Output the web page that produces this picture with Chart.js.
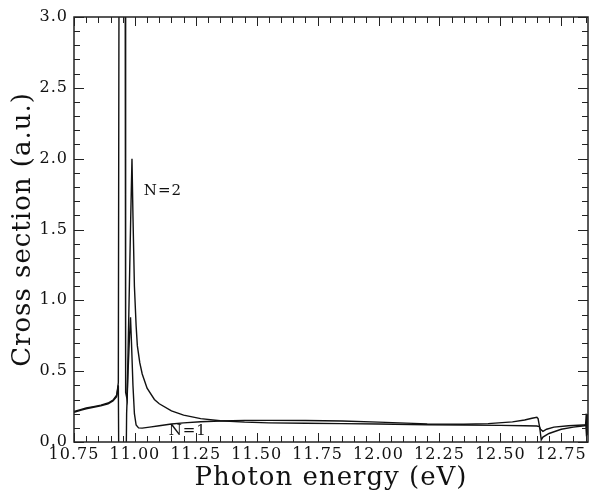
<!DOCTYPE html>
<html lang="en">
<head>
    <meta charset="UTF-8">
    <title>Cross section vs photon energy</title>
    <script src="https://cdn.jsdelivr.net/npm/chart.js"></script>
    <style>
        body {
            margin: 0;
            background: #fff;
        }
        canvas {
            display: block;
        }
    </style>
</head>
<body>
    <canvas id="crossChart" width="600" height="491"></canvas>

    <script>
        // axis ranges and tick labels
        const xRange = [10.75, 12.86];
        const yRange = [0, 3.0];
        const xTickVals = [10.75, 11.00, 11.25, 11.50, 11.75, 12.00, 12.25, 12.50, 12.75];
        const yTickVals = [0, 0.5, 1.0, 1.5, 2.0, 2.5, 3.0];

        // N=2 curve (big peak near 11.0)
        const n2X = [10.75, 10.78, 10.80, 10.83, 10.86, 10.89, 10.91, 10.925, 10.932, 10.935, 10.960, 10.962, 10.968,
                     10.975, 10.983, 10.988, 10.992, 10.998, 11.005, 11.01, 11.02, 11.03, 11.05, 11.08, 11.10, 11.15,
                     11.20, 11.27, 11.35, 11.45, 11.55, 11.70, 11.85, 12.00, 12.20, 12.35, 12.50, 12.60, 12.65, 12.66,
                     12.665, 12.675, 12.69, 12.72, 12.78, 12.84, 12.850, 12.853, 12.856, 12.86];
        const n2Y = [0.21, 0.225, 0.235, 0.245, 0.255, 0.27, 0.29, 0.32, 0.42, 3.5, 3.5, 0.35, 0.3,
                     0.9, 1.6, 2.0, 1.6, 1.1, 0.82, 0.68, 0.56, 0.48, 0.38, 0.3, 0.27, 0.22,
                     0.19, 0.165, 0.15, 0.14, 0.135, 0.132, 0.13, 0.127, 0.122, 0.12, 0.117, 0.115, 0.113, 0.108,
                     0.09, 0.075, 0.09, 0.105, 0.115, 0.12, 0.12, 0.2, 0.05, 0.13];

        // N=1 curve
        const n1X = [10.75, 10.78, 10.80, 10.83, 10.86, 10.89, 10.91, 10.925, 10.932, 10.935, 10.962, 10.966, 10.972,
                     10.978, 10.982, 10.986, 10.992, 10.998, 11.005, 11.015, 11.03, 11.06, 11.10, 11.15, 11.20, 11.27,
                     11.35, 11.45, 11.55, 11.70, 11.85, 12.00, 12.20, 12.35, 12.45, 12.55, 12.60, 12.63, 12.65, 12.655,
                     12.662, 12.668, 12.675, 12.70, 12.75, 12.80, 12.845, 12.851, 12.854, 12.857, 12.86];
        const n1Y = [0.215, 0.23, 0.24, 0.25, 0.26, 0.275, 0.295, 0.33, 0.4, -0.5, -0.5, 0.2, 0.5,
                     0.75, 0.88, 0.7, 0.4, 0.2, 0.12, 0.1, 0.098, 0.105, 0.115, 0.127, 0.135, 0.143,
                     0.148, 0.152, 0.153, 0.152, 0.148, 0.14, 0.128, 0.125, 0.13, 0.142, 0.155, 0.168, 0.175, 0.165,
                     0.1, 0.015, 0.035, 0.06, 0.09, 0.105, 0.115, 0.12, 0.04, 0.19, 0.1];

        // curve labels
        const curveLabels = [
            { text: 'N=2', x: 11.115, y: 1.77 },
            { text: 'N=1', x: 11.217, y: 0.078 }
        ];

        const ink = '#111';
        const serif = "'DejaVu Serif', 'Liberation Serif', serif";

        function toPoints(xs, ys) {
            return xs.map((x, i) => ({ x: x, y: ys[i] }));
        }

        // a little letter spacing, like the original typeset figure
        const spacing = {
            id: 'spacing',
            beforeLayout(chart) { chart.ctx.letterSpacing = '1px'; },
            beforeDraw(chart) { chart.ctx.letterSpacing = '1px'; }
        };

        // box frame with inward ticks on all four sides
        const frame = {
            id: 'frame',
            afterDatasetsDraw(chart) {
                const { ctx, chartArea: a, scales: { x, y } } = chart;
                ctx.save();
                ctx.strokeStyle = '#222';
                ctx.lineWidth = 1.5;
                ctx.strokeRect(a.left, a.top, a.right - a.left, a.bottom - a.top);

                ctx.lineWidth = 1;
                ctx.beginPath();
                for (let k = 0; xRange[0] + k * 0.05 <= xRange[1] + 1e-9; k++) {
                    const px = Math.round(x.getPixelForValue(xRange[0] + k * 0.05)) + 0.5;
                    const len = k % 5 === 0 ? 9 : 6;
                    ctx.moveTo(px, a.bottom); ctx.lineTo(px, a.bottom - len);
                    ctx.moveTo(px, a.top); ctx.lineTo(px, a.top + len);
                }
                for (let k = 0; k * 0.1 <= yRange[1] + 1e-9; k++) {
                    const py = Math.round(y.getPixelForValue(k * 0.1)) + 0.5;
                    const len = k % 5 === 0 ? 10 : 6;
                    ctx.moveTo(a.left, py); ctx.lineTo(a.left + len, py);
                    ctx.moveTo(a.right, py); ctx.lineTo(a.right - len, py);
                }
                ctx.stroke();

                ctx.fillStyle = ink;
                ctx.font = '15px ' + serif;
                ctx.textAlign = 'center';
                ctx.textBaseline = 'middle';
                curveLabels.forEach(l => {
                    ctx.fillText(l.text, x.getPixelForValue(l.x), y.getPixelForValue(l.y));
                });
                ctx.restore();
            }
        };

        const lineStyle = {
            showLine: true,
            borderColor: ink,
            borderWidth: 1.4,
            pointRadius: 0,
            tension: 0,
            fill: false
        };

        new Chart(document.getElementById('crossChart').getContext('2d'), {
            type: 'scatter',
            data: {
                datasets: [
                    Object.assign({ label: 'N=2', data: toPoints(n2X, n2Y) }, lineStyle),
                    Object.assign({ label: 'N=1', data: toPoints(n1X, n1Y) }, lineStyle)
                ]
            },
            options: {
                responsive: false,
                animation: false,
                devicePixelRatio: 1,
                layout: { padding: { top: 17, right: 12, left: 0, bottom: 0 } },
                plugins: {
                    legend: { display: false },
                    tooltip: { enabled: false }
                },
                scales: {
                    x: {
                        type: 'linear',
                        min: xRange[0],
                        max: xRange[1],
                        afterBuildTicks: s => { s.ticks = xTickVals.map(v => ({ value: v })); },
                        afterFit: s => { s.height = 49; },
                        grid: { display: false, drawTicks: false },
                        border: { display: false },
                        ticks: {
                            color: ink,
                            font: { family: serif, size: 16 },
                            padding: 3,
                            maxRotation: 0,
                            autoSkip: false,
                            callback: v => v.toFixed(2)
                        },
                        title: {
                            display: true,
                            text: 'Photon energy (eV)',
                            color: ink,
                            font: { family: serif, size: 26, lineHeight: 1 },
                            padding: { top: 0, bottom: 0 }
                        }
                    },
                    y: {
                        min: yRange[0],
                        max: yRange[1],
                        afterBuildTicks: s => { s.ticks = yTickVals.map(v => ({ value: v })); },
                        afterFit: s => { s.width = 74; },
                        grid: { display: false, drawTicks: false },
                        border: { display: false },
                        ticks: {
                            color: ink,
                            font: { family: serif, size: 16 },
                            padding: 6,
                            callback: v => v.toFixed(1)
                        },
                        title: {
                            display: true,
                            text: 'Cross section (a.u.)',
                            color: ink,
                            font: { family: serif, size: 26, lineHeight: 1 },
                            padding: { top: 10, bottom: 0 }
                        }
                    }
                }
            },
            plugins: [spacing, frame]
        });
    </script>
</body>
</html>
